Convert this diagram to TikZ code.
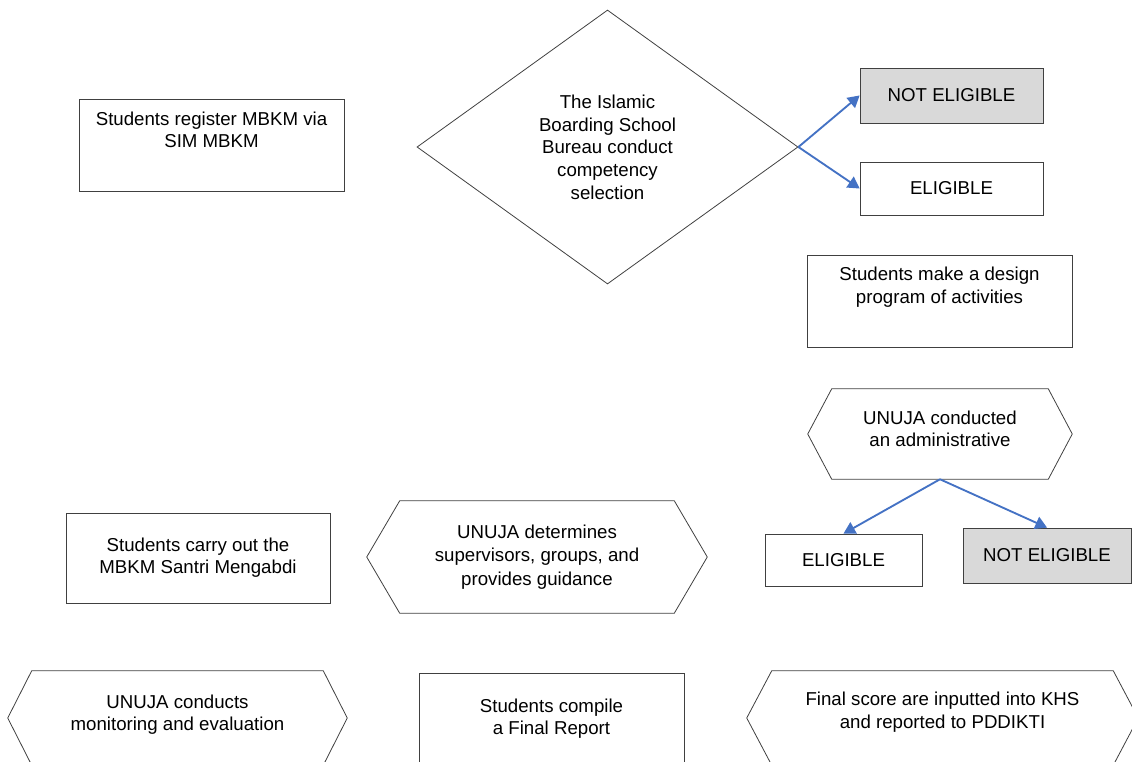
\documentclass[tikz,border=0pt]{standalone}
\usepackage{fontspec}
\setmainfont{Liberation Sans}
\usetikzlibrary{calc,shapes,positioning}
\usetikzlibrary{arrows}
\definecolor{edgegray}{HTML}{404040}
\definecolor{fillgray}{HTML}{D9D9D9}
\definecolor{flowblue}{HTML}{4472C4}

\begin{document}
\begin{tikzpicture}[x=0.75pt,y=-0.75pt]
  \tikzstyle{bnode} = [draw=edgegray, line width=0.6pt, rectangle, inner sep=0pt, align=center, font=\fontsize{14}{16.5}\selectfont]
  \tikzstyle{gnode} = [bnode, fill=fillgray]
  \tikzstyle{hnode} = [rectangle, inner sep=0pt, align=center, font=\fontsize{14}{17.5}\selectfont]
  \tikzstyle{dnode} = [draw=edgegray, line width=0.6pt, diamond, inner sep=0pt, align=center, font=\fontsize{14}{17}\selectfont]
  \tikzstyle{tnode} = [inner sep=0pt, align=center, font=\fontsize{14}{16.5}\selectfont]
  \tikzstyle{flow} = [draw=flowblue, line width=1.4pt, -triangle 60]

  \useasboundingbox (0,0) rectangle (1132,761);
  \clip (0,0) rectangle (1132,761);

  % top part
  \node[bnode, minimum width=198.75pt, minimum height=69pt] (reg) at (211.5,145) {};
  \node[tnode, below=10pt of reg.north] (regtxt) {Students register MBKM via\\SIM MBKM};
  \node[dnode, minimum width=285.75pt, minimum height=205.5pt] (sel) at (607.5,147) {The Islamic\\Boarding School\\Bureau conduct\\competency\\selection};
  \node[gnode, minimum width=137.25pt, minimum height=41.25pt] (nel1) at (951.5,95.5) {NOT ELIGIBLE};
  \node[bnode, minimum width=137.25pt, minimum height=39.75pt] (el1) at (951.5,188.5) {ELIGIBLE};
  \node[bnode, minimum width=198.75pt, minimum height=69pt] (des) at (939.5,301) {};
  \node[tnode, below=9pt of des.north, font=\fontsize{14}{17.5}\selectfont] (destxt) {Students make a design\\program of activities};

  % second check
  \node[hnode, minimum width=198pt, minimum height=67.5pt] (adm) at (940,434) {};
  \node[tnode, below=16.5pt of adm.north] (admtxt) {UNUJA conducted\\an administrative};
  \node[bnode, minimum width=117.75pt, minimum height=39pt] (el2) at (843.5,560) {ELIGIBLE};
  \node[gnode, minimum width=126pt, minimum height=41.25pt] (nel2) at (1047,555.5) {NOT ELIGIBLE};

  % middle row
  \node[bnode, minimum width=198pt, minimum height=67.5pt] (car) at (198,558) {Students carry out the\\MBKM Santri Mengabdi};
  \node[hnode, minimum width=255pt, minimum height=84pt] (sup) at (537,557) {UNUJA determines\\supervisors, groups, and\\provides guidance};

  % bottom row
  \node[hnode, minimum width=254.25pt, minimum height=70.5pt] (mon) at (177.5,718) {};
  \node[tnode, below=18pt of mon.north] (montxt) {UNUJA conducts\\monitoring and evaluation};
  \node[bnode, minimum width=198.75pt, minimum height=69pt] (rep) at (551.5,719) {Students compile\\a Final Report};
  \node[hnode, minimum width=293.25pt, minimum height=70.5pt] (fin) at (942.5,718) {};
  \node[tnode, below=15.5pt of fin.north, font=\fontsize{14}{17.5}\selectfont] (fintxt) {Final score are inputted into KHS\\and reported to PDDIKTI};

  % hexagon outlines
  \foreach \n/\s in {adm/24, sup/33, mon/24, fin/25}
    \draw[draw=edgegray, line width=0.6pt] ($(\n.north west)+(\s,0)$) -- ($(\n.north east)+(-\s,0)$) -- (\n.east)
      -- ($(\n.south east)+(-\s,0)$) -- ($(\n.south west)+(\s,0)$) -- (\n.west) -- cycle;

  \draw[flow] (sel.east) -- (nel1.west);
  \draw[flow] (sel.east) -- (el1.west);
  \draw[flow] (adm.south) -- (el2.north);
  \draw[flow] (adm.south) -- (nel2.north);
\end{tikzpicture}
\end{document}
